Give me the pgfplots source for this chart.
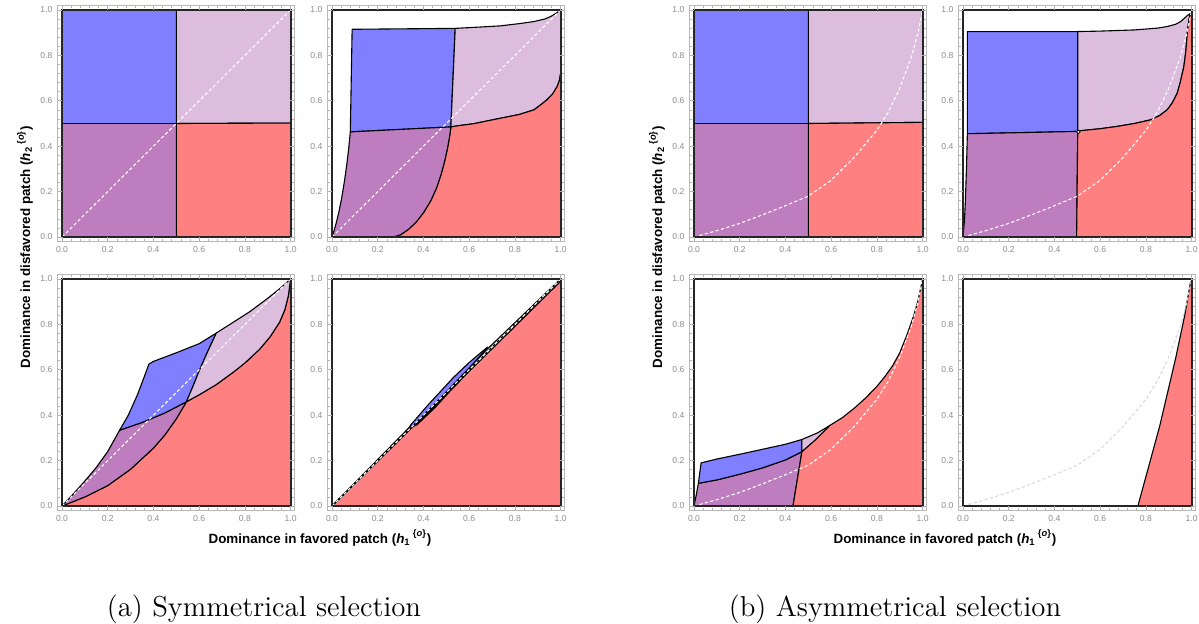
\documentclass[border=0pt]{standalone}
\usepackage{pgfplots}
\pgfplotsset{compat=1.18}
\usepackage{fontspec}
\newfontfamily\lab{Liberation Sans}
\definecolor{cblue}{RGB}{127,127,255}
\definecolor{clp}{RGB}{220,189,222}
\definecolor{cpu}{RGB}{190,125,190}
\definecolor{cred}{RGB}{255,128,128}
\pgfplotsset{
 panel/.style={
  scale only axis, width=118.4pt, height=117.6pt,
  xmin=-0.018,xmax=1.018,ymin=-0.018,ymax=1.018,
  anchor=south west,
  axis line style={draw=gray!55, line width=0.5pt},
  xtick={0,0.2,0.4,0.6,0.8,1}, ytick={0,0.2,0.4,0.6,0.8,1},
  xticklabels={0.0,0.2,0.4,0.6,0.8,1.0}, yticklabels={0.0,0.2,0.4,0.6,0.8,1.0},
  minor x tick num=4, minor y tick num=4,
  tick align=inside,
  major tick length=2.2pt, minor tick length=1.2pt,
  every tick/.style={gray!60, line width=0.35pt},
  tick label style={font=\lab\fontsize{4.3}{5}\selectfont, text=gray!90},
  xticklabel style={yshift=0.6pt}, yticklabel style={xshift=0.8pt},
  axis on top,
 },
 rg/.style={draw=black, line width=0.55pt, line join=round},
 fb/.style={rg, fill=cblue},
 fl/.style={rg, fill=clp},
 fp/.style={rg, fill=cpu},
 fr/.style={rg, fill=cred},
 dw/.style={white, line width=0.55pt, dash pattern=on 1.6pt off 1.2pt},
 dg/.style={gray!30, line width=0.55pt, dash pattern=on 1.6pt off 1.2pt},
 fr0/.style={black!85, line width=1pt},
}
\newcommand{\frameplot}{\addplot[fr0] coordinates {(0,0)(1,0)(1,1)(0,1)(0,0)(1,0)};}
\newcommand{\curveC}[1]{\addplot[#1] coordinates {(0,0)(0.1,0.028)(0.2,0.06)(0.3,0.098)(0.4,0.138)(0.5,0.18)(0.6,0.25)(0.7,0.35)(0.75,0.41)(0.8,0.47)(0.85,0.55)(0.9,0.655)(0.95,0.79)(0.98,0.9)(1,1)};}
\begin{document}
\begin{tikzpicture}
\useasboundingbox (0,0) rectangle (599.5pt,311.5pt);
% ---------- P1
\begin{axis}[panel, at={(28.95pt,190.95pt)}]
\addplot[fb] coordinates {(0,0.5)(0.5,0.5)(0.5,1)(0,1)(0,0.5)};
\addplot[fl] coordinates {(0.5,0.5)(1,0.502)(1,1)(0.5,1)(0.5,0.5)};
\addplot[fp] coordinates {(0,0)(0.5,0)(0.5,0.5)(0,0.5)(0,0)};
\addplot[fr] coordinates {(0.5,0)(1,0)(1,0.502)(0.5,0.5)(0.5,0)};
\addplot[dw] coordinates {(0,0)(1,1)};
\frameplot
\end{axis}
% ---------- P2
\begin{axis}[panel, at={(163.95pt,190.95pt)}]
\addplot[fb] coordinates {(0.080,0.463)(0.52,0.485)(0.539,0.919)(0.088,0.915)(0.080,0.463)};
\addplot[fl] coordinates {(0.52,0.485)(0.539,0.919)(0.65,0.925)(0.736,0.930)(0.82,0.94)(0.883,0.949)(0.93,0.96)(0.956,0.971)(0.98,0.985)(1,1)(1,0.72)(0.995,0.69)(0.985,0.663)(0.965,0.63)(0.94,0.604)(0.91,0.58)(0.883,0.56)(0.82,0.54)(0.736,0.523)(0.619,0.499)(0.55,0.49)(0.52,0.485)};
\addplot[fr] coordinates {(0.268,0)(1,0)(1,0.72)(0.995,0.69)(0.985,0.663)(0.965,0.63)(0.94,0.604)(0.91,0.58)(0.883,0.56)(0.82,0.54)(0.736,0.523)(0.619,0.499)(0.55,0.49)(0.52,0.485)(0.514,0.44)(0.505,0.39)(0.493,0.335)(0.477,0.275)(0.457,0.215)(0.432,0.16)(0.402,0.11)(0.37,0.068)(0.335,0.034)(0.30,0.01)(0.268,0)};
\addplot[fp] coordinates {(0,0)(0.008,0.025)(0.018,0.06)(0.03,0.11)(0.042,0.17)(0.055,0.25)(0.066,0.33)(0.074,0.40)(0.080,0.463)(0.52,0.485)(0.514,0.44)(0.505,0.39)(0.493,0.335)(0.477,0.275)(0.457,0.215)(0.432,0.16)(0.402,0.11)(0.37,0.068)(0.335,0.034)(0.30,0.01)(0.268,0)(0,0)};
\addplot[dw] coordinates {(0,0)(1,1)};
\frameplot
\end{axis}
% ---------- P3
\begin{axis}[panel, at={(28.95pt,56.45pt)}]
\addplot[fr] coordinates {(0,0)(0.1,0.04)(0.2,0.09)(0.3,0.162)(0.4,0.255)(0.45,0.313)(0.5,0.384)(0.544,0.459)(0.6,0.49)(0.675,0.535)(0.75,0.59)(0.8,0.63)(0.864,0.69)(0.91,0.745)(0.952,0.81)(0.975,0.865)(0.99,0.925)(1,1)(1,0)(0,0)};
\addplot[fp] coordinates {(0,0)(0.05,0.054)(0.1,0.11)(0.15,0.17)(0.2,0.24)(0.252,0.334)(0.35,0.368)(0.45,0.41)(0.544,0.459)(0.5,0.384)(0.45,0.313)(0.4,0.255)(0.3,0.162)(0.2,0.09)(0.1,0.04)(0,0)};
\addplot[fb] coordinates {(0.252,0.334)(0.29,0.40)(0.33,0.49)(0.36,0.57)(0.38,0.625)(0.40,0.637)(0.5,0.675)(0.6,0.715)(0.675,0.762)(0.635,0.675)(0.6,0.595)(0.57,0.52)(0.544,0.459)(0.45,0.41)(0.35,0.368)(0.252,0.334)};
\addplot[fl] coordinates {(0.544,0.459)(0.57,0.52)(0.6,0.595)(0.635,0.675)(0.675,0.762)(0.75,0.81)(0.82,0.855)(0.9,0.915)(0.95,0.955)(1,1)(0.99,0.925)(0.975,0.865)(0.952,0.81)(0.91,0.745)(0.864,0.69)(0.8,0.63)(0.75,0.59)(0.675,0.535)(0.6,0.49)(0.544,0.459)};
\addplot[dw] coordinates {(0,0)(1,1)};
\frameplot
\end{axis}
% ---------- P4
\begin{axis}[panel, at={(163.95pt,56.45pt)}]
\addplot[fr] coordinates {(0,0)(1,0)(1,0.99)(0,0)};
\addplot[fl] coordinates {(0,0)(0.33,0.338)(0.68,0.692)(1,1)(1,0.99)(0.68,0.673)(0.33,0.327)(0,0)};
\addplot[fb] coordinates {(0.34,0.352)(0.42,0.445)(0.53,0.565)(0.6,0.632)(0.68,0.70)(0.66,0.672)(0.55,0.555)(0.42,0.418)(0.36,0.352)(0.34,0.352)};
\addplot[rg, fill=white] coordinates {(0.37,0.36)(0.45,0.44)(0.55,0.54)(0.66,0.675)(0.64,0.652)(0.54,0.532)(0.45,0.433)(0.37,0.356)(0.37,0.36)};
\addplot[black, line width=0.5pt] coordinates {(0,0)(1,1)};
\addplot[dw] coordinates {(0,0)(1,1)};
\frameplot
\end{axis}
% ---------- P5
\begin{axis}[panel, at={(344.95pt,190.95pt)}]
\addplot[fb] coordinates {(0,0.5)(0.5,0.5)(0.5,1)(0,1)(0,0.5)};
\addplot[fl] coordinates {(0.5,0.5)(1,0.505)(1,1)(0.5,1)(0.5,0.5)};
\addplot[fp] coordinates {(0,0)(0.5,0)(0.5,0.5)(0,0.5)(0,0)};
\addplot[fr] coordinates {(0.5,0)(1,0)(1,0.505)(0.5,0.5)(0.5,0)};
\curveC{dw}
\frameplot
\end{axis}
% ---------- P6
\begin{axis}[panel, at={(479.45pt,190.95pt)}]
\addplot[fb] coordinates {(0.019,0.455)(0.502,0.465)(0.502,0.905)(0.019,0.905)(0.019,0.455)};
\addplot[fp] coordinates {(0,0)(0.006,0.07)(0.01,0.15)(0.015,0.3)(0.019,0.455)(0.502,0.465)(0.497,0)(0,0)};
\addplot[fl] coordinates {(0.502,0.465)(0.502,0.905)(0.6,0.907)(0.747,0.912)(0.85,0.92)(0.893,0.927)(0.93,0.937)(0.952,0.949)(0.97,0.965)(0.981,0.975)(0.995,0.985)(0.988,0.956)(0.981,0.897)(0.975,0.82)(0.966,0.75)(0.95,0.68)(0.937,0.633)(0.915,0.59)(0.893,0.56)(0.86,0.535)(0.82,0.516)(0.75,0.5)(0.673,0.487)(0.6,0.477)(0.512,0.468)(0.502,0.465)};
\addplot[fr] coordinates {(0.497,0)(1,0)(1,0.975)(0.995,0.985)(0.988,0.956)(0.981,0.897)(0.975,0.82)(0.966,0.75)(0.95,0.68)(0.937,0.633)(0.915,0.59)(0.893,0.56)(0.86,0.535)(0.82,0.516)(0.75,0.5)(0.673,0.487)(0.6,0.477)(0.512,0.468)(0.502,0.465)(0.497,0)};
\curveC{dw}
\addplot[only marks, mark=*, mark size=0.9pt, mark options={fill=white, draw=black, line width=0.3pt}] coordinates {(0.505,0.463)};
\frameplot
\end{axis}
% ---------- P7
\begin{axis}[panel, at={(344.95pt,56.45pt)}]
\addplot[fp] coordinates {(0,0)(0.01,0.05)(0.019,0.1)(0.1,0.115)(0.2,0.14)(0.3,0.168)(0.4,0.203)(0.472,0.239)(0.433,0)(0,0)};
\addplot[fb] coordinates {(0.019,0.1)(0.031,0.19)(0.1,0.207)(0.2,0.228)(0.3,0.25)(0.4,0.272)(0.472,0.293)(0.472,0.239)(0.4,0.203)(0.3,0.168)(0.2,0.14)(0.1,0.115)(0.019,0.1)};
\addplot[fl] coordinates {(0.472,0.239)(0.472,0.293)(0.54,0.322)(0.596,0.356)(0.53,0.29)(0.472,0.239)};
\addplot[fr] coordinates {(0.433,0)(1,0)(1,1)(0.98,0.905)(0.96,0.835)(0.93,0.75)(0.9,0.675)(0.87,0.62)(0.835,0.57)(0.8,0.527)(0.75,0.475)(0.7,0.43)(0.65,0.39)(0.596,0.356)(0.53,0.29)(0.472,0.239)(0.433,0)};
\curveC{dw}
\frameplot
\end{axis}
% ---------- P8
\begin{axis}[panel, at={(479.45pt,56.45pt)}]
\addplot[fr] coordinates {(0.765,0)(1,0)(1,0.99)(0.995,0.985)(0.97,0.84)(0.93,0.65)(0.86,0.35)(0.765,0)};
\curveC{dg}
\frameplot
\end{axis}
% ---------- labels
\node[rotate=90, anchor=base, font=\lab\bfseries\fontsize{6.7}{8}\selectfont] at (15pt,188pt) {Dominance in disfavored patch (\textit{h}\textsubscript{2}\,\textsuperscript{\{\textit{o}\}})};
\node[rotate=90, anchor=base, font=\lab\bfseries\fontsize{6.7}{8}\selectfont] at (331pt,188pt) {Dominance in disfavored patch (\textit{h}\textsubscript{2}\,\textsuperscript{\{\textit{o}\}})};
\node[anchor=base, font=\lab\bfseries\fontsize{6.7}{8}\selectfont] at (160pt,40pt) {Dominance in favored patch (\textit{h}\textsubscript{1}\,\textsuperscript{\{\textit{o}\}})};
\node[anchor=base, font=\lab\bfseries\fontsize{6.7}{8}\selectfont] at (472.5pt,40pt) {Dominance in favored patch (\textit{h}\textsubscript{1}\,\textsuperscript{\{\textit{o}\}})};
\node[anchor=base, font=\fontsize{14.4}{17}\selectfont] at (132pt,3.5pt) {(a) Symmetrical selection};
\node[anchor=base, font=\fontsize{14.4}{17}\selectfont] at (447.5pt,3.5pt) {(b) Asymmetrical selection};
\end{tikzpicture}
\end{document}
